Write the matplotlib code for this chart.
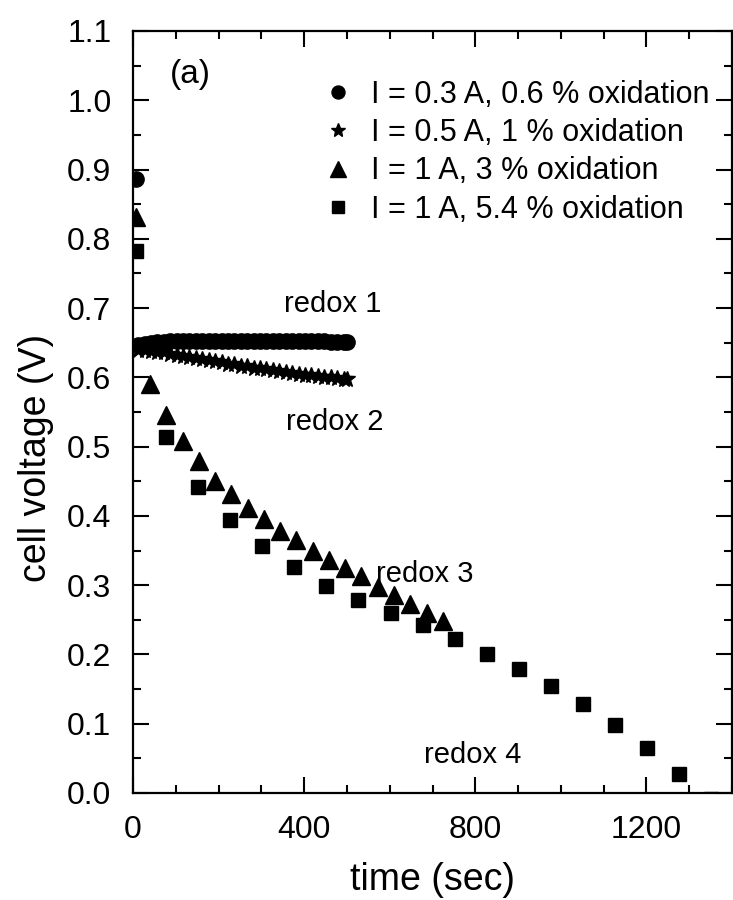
import matplotlib
matplotlib.use("Agg")
import matplotlib.pyplot as plt
from matplotlib.ticker import MultipleLocator

plt.rcParams['font.family'] = ['Liberation Sans', 'DejaVu Sans']

# ---- data ----
t_circle = [7, 12, 27, 42, 57, 72, 87, 102, 117, 132, 147, 162, 177, 192, 207, 222, 237,
            252, 267, 282, 297, 312, 327, 342, 357, 372, 387, 402, 417, 432, 447, 462,
            477, 492, 500]
v_circle = [0.886, 0.646, 0.648, 0.650, 0.651, 0.651, 0.652, 0.652, 0.652, 0.652, 0.652,
            0.652, 0.652, 0.652, 0.652, 0.652, 0.652, 0.652, 0.652, 0.652, 0.652, 0.652,
            0.652, 0.652, 0.652, 0.652, 0.652, 0.652, 0.652, 0.652, 0.652, 0.651, 0.651,
            0.651, 0.651]

t_star = [12, 27, 42, 57, 72, 87, 102, 117, 132, 147, 162, 177, 192, 207, 222, 237,
          252, 267, 282, 297, 312, 327, 342, 357, 372, 387, 402, 417, 432, 447, 462,
          477, 492, 500]
v_star = [0.640, 0.639, 0.638, 0.637, 0.636, 0.634, 0.633, 0.631, 0.630, 0.628, 0.627,
          0.625, 0.623, 0.622, 0.620, 0.619, 0.617, 0.616, 0.614, 0.613, 0.612, 0.610,
          0.609, 0.608, 0.607, 0.605, 0.604, 0.603, 0.602, 0.601, 0.600, 0.599, 0.598,
          0.597]

t_tri = [7, 40, 78, 116, 154, 192, 230, 268, 306, 344, 382, 420, 458, 496, 534, 572,
         610, 648, 686, 724]
v_tri = [0.831, 0.590, 0.546, 0.508, 0.479, 0.451, 0.431, 0.411, 0.395, 0.378, 0.365,
         0.350, 0.337, 0.325, 0.313, 0.298, 0.286, 0.273, 0.260, 0.249]

t_sq = [7, 76, 151, 226, 302, 377, 452, 527, 602, 677, 752, 827, 902, 977, 1052, 1127,
        1202, 1277, 1352]
v_sq = [0.782, 0.514, 0.442, 0.394, 0.356, 0.326, 0.299, 0.279, 0.260, 0.243, 0.222,
        0.201, 0.179, 0.155, 0.129, 0.098, 0.065, 0.028, -0.008]

labels = ["I = 0.3 A, 0.6 % oxidation", "I = 0.5 A, 1 % oxidation",
          "I = 1 A, 3 % oxidation", "I = 1 A, 5.4 % oxidation"]

annotations = [("redox 1", 354, 0.706), ("redox 2", 358, 0.535),
               ("redox 3", 568, 0.316), ("redox 4", 681, 0.055)]

FS_TICK = 23
FS_LEG = 22
FS_ANN = 21

fig = plt.figure(figsize=(7.33, 9.0), dpi=100)
ax = fig.add_axes([133/733, 1 - 793/900, 599/733, 762/900])

ax.plot(t_circle, v_circle, 'o', color='black', ms=11, label=labels[0])
ax.plot(t_star, v_star, '*', color='black', ms=12, label=labels[1])
ax.plot(t_tri, v_tri, '^', color='black', ms=13, label=labels[2])
ax.plot(t_sq, v_sq, 's', color='black', ms=10.5, label=labels[3])

for txt, x, y in annotations:
    ax.text(x, y, txt, fontsize=FS_ANN, ha='left', va='center')
ax.text(86, 1.037, "(a)", fontsize=24, ha='left', va='center')

ax.set_xlim(0, 1400)
ax.set_ylim(0.0, 1.1)
ax.xaxis.set_major_locator(MultipleLocator(400))
ax.xaxis.set_minor_locator(MultipleLocator(100))
ax.yaxis.set_minor_locator(MultipleLocator(0.05))
ax.set_yticks([round(0.1 * i, 1) for i in range(12)])
ax.set_yticklabels([f"{0.1 * i:.1f}" for i in range(12)])

ax.tick_params(which='both', direction='in', top=True, right=True, width=1.5,
               labelsize=FS_TICK)
ax.tick_params(which='major', length=11.5, pad=15.5)
ax.tick_params(which='minor', length=5.5)
for s in ax.spines.values():
    s.set_linewidth(1.6)

ax.set_xlabel("time (sec)", fontsize=27)
ax.set_ylabel("cell voltage (V)", fontsize=27)
ax.xaxis.set_label_coords(0.5, -0.09)
ax.yaxis.set_label_coords(-0.132, 0.44)

leg = ax.legend(loc='upper left', bbox_to_anchor=(0.317, 0.936), frameon=False,
                fontsize=FS_LEG, handlelength=1.0, handletextpad=0.57,
                borderpad=0, borderaxespad=0, labelspacing=0.27, markerscale=0.85)

fig.savefig("out.png", dpi=100)
